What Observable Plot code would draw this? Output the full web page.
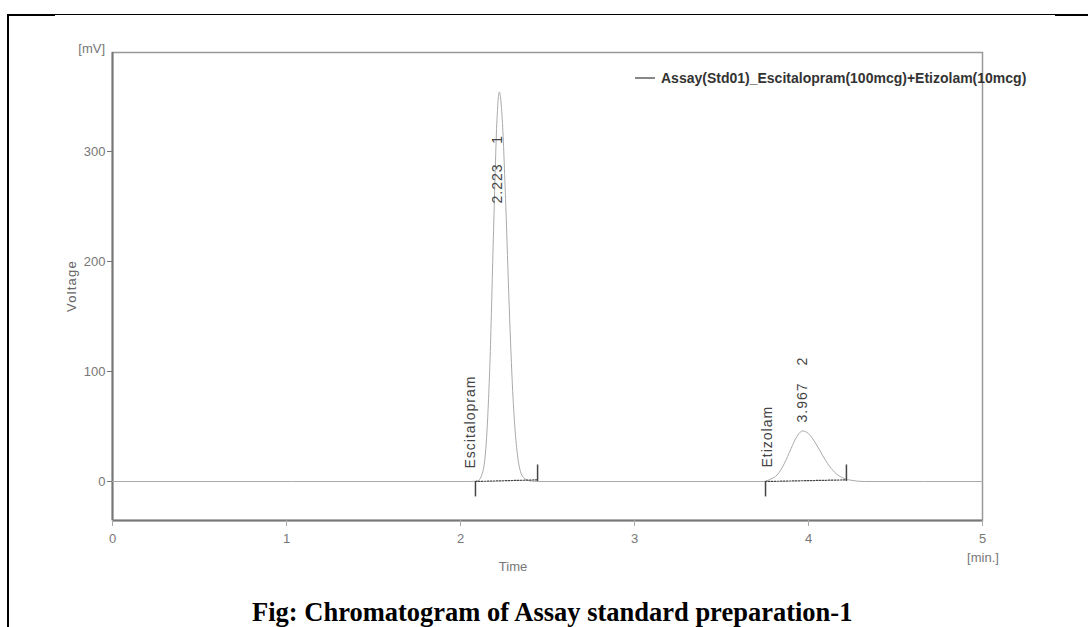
<!DOCTYPE html>
<html>
<head>
<meta charset="utf-8">
<script src="https://cdn.jsdelivr.net/npm/d3@7"></script>
<script src="https://cdn.jsdelivr.net/npm/@observablehq/plot@0.6"></script>
<style>
  html, body { margin: 0; padding: 0; background: #fff; }
  #page { position: relative; width: 1088px; height: 627px; overflow: hidden; font-family: "Liberation Sans", Arial, sans-serif; }
  #chart { position: absolute; left: 0; top: 0; }
  .abs { position: absolute; white-space: nowrap; }
  svg g[aria-label="text"] text { letter-spacing: 1px; }
</style>
</head>
<body>
<div id="page">
  <div id="chart"></div>
  <!-- page border -->
  <div class="abs" style="left:7px;top:14px;width:1081px;height:1px;background:#000"></div>
  <div class="abs" style="left:7px;top:14px;width:48px;height:2px;background:#000"></div>
  <div class="abs" style="left:1055px;top:14px;width:33px;height:2px;background:#000"></div>
  <div class="abs" style="left:7px;top:14px;width:2px;height:613px;background:#000"></div>
  <!-- unit / axis labels -->
  <div class="abs" style="right:983px;top:41px;font-size:13px;line-height:16px;color:#777">[mV]</div>
  <div class="abs" style="left:72px;top:286px;font-size:13px;line-height:16px;color:#666;letter-spacing:1.2px;transform:translate(-50%,-50%) rotate(-90deg)">Voltage</div>
  <div class="abs" style="left:513px;top:567px;font-size:13px;line-height:16px;color:#777;transform:translate(-50%,-50%)">Time</div>
  <div class="abs" style="left:983px;top:558px;font-size:13px;line-height:16px;color:#777;transform:translate(-50%,-50%)">[min.]</div>
  <!-- legend -->
  <div class="abs" style="left:635px;top:77px;width:20px;height:1.5px;background:#888"></div>
  <div class="abs" style="left:661px;top:70px;font-size:14px;line-height:16px;font-weight:bold;color:#333">Assay(Std01)_Escitalopram(100mcg)+Etizolam(10mcg)</div>
  <!-- caption -->
  <div class="abs" style="left:252px;top:599px;font-family:'Liberation Serif','Times New Roman',serif;font-weight:bold;font-size:26.5px;line-height:26.5px;color:#000">Fig: Chromatogram of Assay standard preparation-1</div>
</div>
<script>
// ---- data ----
const timeMin = [0, 2.06, 2.10, 2.13, 2.15, 2.17, 2.19, 2.21, 2.223, 2.24, 2.26, 2.28, 2.30, 2.33, 2.36, 2.40, 2.45,
                 3.74, 3.78, 3.82, 3.86, 3.90, 3.93, 3.967, 4.00, 4.04, 4.08, 4.12, 4.16, 4.20, 4.25, 4.32, 5.0];
const voltageMv = [0, 0, 0.7, 10, 40, 112, 228, 330, 354, 329, 252, 159, 82, 21, 4, 0.5, 0,
                   0, 2, 6, 16, 30, 40, 46, 43.5, 35, 24, 14, 7, 3, 1, 0, 0];

const xTicks = [0, 1, 2, 3, 4, 5];
const yTicks = [0, 100, 200, 300];

// integration events (start / end of each peak)
const peakStart = [2.086, 3.753];
const peakEnd = [2.443, 4.218];
const baselineStartMv = [0, 0];
const baselineEndMv = [1.5, 1.5];
const startTickMv = [-14, -14];
const endTickMv = [15, 15];

// peak annotations
const compoundNames = ["Escitalopram", "Etizolam"];
const nameTime = [2.057, 3.764];
const nameMv = [11.8, 12.7];
const retentionText = ["2.223", "3.967"];
const retentionLabelTime = [2.213, 3.966];
const retentionLabelMv = [252.7, 53.6];
const peakNumbers = ["1", "2"];
const peakNumberMv = [307, 105.5];

// ---- tables built from the arrays ----
const trace = timeMin.map((t, i) => ({t, v: voltageMv[i]}));
const baselines = peakStart.flatMap((s, i) => [
  {peak: i, t: s, v: baselineStartMv[i]},
  {peak: i, t: peakEnd[i], v: baselineEndMv[i]}
]);
const events = peakStart.map((s, i) => ({s, e: peakEnd[i], sv: startTickMv[i], ev: endTickMv[i]}));
const names = compoundNames.map((n, i) => ({n, t: nameTime[i], v: nameMv[i]}));
const rts = retentionText.map((r, i) => ({r, t: retentionLabelTime[i], v: retentionLabelMv[i]}));
const nums = peakNumbers.map((p, i) => ({p, t: retentionLabelTime[i], v: peakNumberMv[i]}));

const plot = Plot.plot({
  width: 1088,
  height: 599,
  marginLeft: 112,
  marginRight: 106,
  marginTop: 52,
  marginBottom: 79,
  style: {fontFamily: "Liberation Sans, Arial, sans-serif", fontSize: "13px", background: "transparent", color: "#777"},
  x: {domain: [0, 5], axis: null},
  y: {domain: [-35.45, 390], axis: null},
  marks: [
    Plot.frame({stroke: "#999", strokeWidth: 1.5}),
    Plot.ruleX([0], {stroke: "#777", strokeWidth: 2}),
    Plot.ruleY([-35.45], {stroke: "#777", strokeWidth: 2}),
    Plot.line(trace, {x: "t", y: "v", stroke: "#aaa", strokeWidth: 1, curve: "monotone-x"}),
    Plot.line(baselines, {x: "t", y: "v", z: "peak", stroke: "#444", strokeWidth: 1.2, strokeDasharray: "1.5,1.5"}),
    Plot.ruleX(events, {x: "s", y1: 0, y2: "sv", stroke: "#444", strokeWidth: 1.5}),
    Plot.ruleX(events, {x: "e", y1: 0, y2: "ev", stroke: "#444", strokeWidth: 1.5}),
    Plot.text(names, {x: "t", y: "v", text: "n", rotate: -90, textAnchor: "start", lineAnchor: "middle", fontSize: 14, fill: "#444"}),
    Plot.text(rts, {x: "t", y: "v", text: "r", rotate: -90, textAnchor: "start", lineAnchor: "middle", fontSize: 14, fill: "#444"}),
    Plot.text(nums, {x: "t", y: "v", text: "p", rotate: -90, textAnchor: "start", lineAnchor: "middle", fontSize: 14, fill: "#444"}),
    Plot.axisY({ticks: yTicks, tickSize: 5, tickPadding: 2, label: null, stroke: "#777", fill: "#777", fontSize: 13, tickFormat: d => String(d)}),
    Plot.axisX({ticks: xTicks, tickSize: 6, tickPadding: 7, label: null, stroke: "#aaa", fill: "#777", fontSize: 13, tickFormat: d => String(d)})
  ]
});
document.getElementById("chart").appendChild(plot);
</script>
</body>
</html>
